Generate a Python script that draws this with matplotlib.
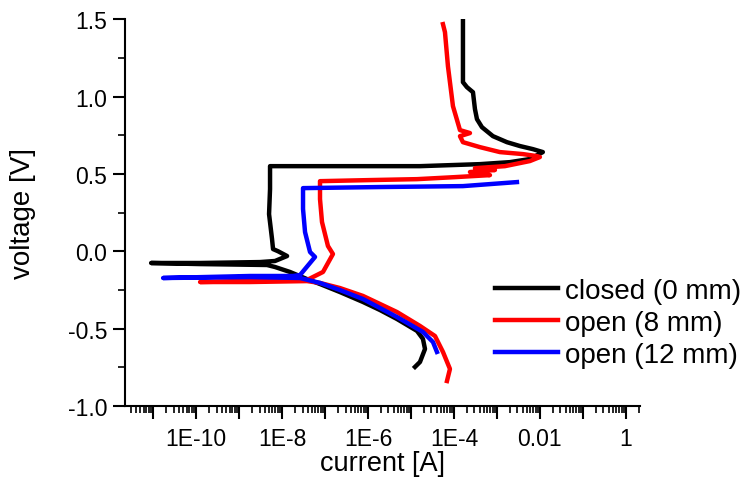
import matplotlib
matplotlib.use("Agg")
import matplotlib.pyplot as plt
from matplotlib.ticker import FixedLocator, LogLocator, MultipleLocator, NullFormatter

plt.rcParams['font.family'] = ['Liberation Sans', 'DejaVu Sans']
plt.rcParams['axes.unicode_minus'] = False

# closed (0 mm): current [A], voltage [V]
closed_i = [1.24e-5, 1.62e-5, 2.12e-5, 1.90e-5, 1.38e-5, 4.72e-6, 1.90e-6, 7.65e-7,
            2.23e-7, 7.65e-8, 3.81e-8, 1.53e-8, 6.88e-9, 4.48e-9, 1.24e-10, 9.0e-12,
            1.24e-10, 3.08e-9, 6.88e-9, 1.31e-8, 8.07e-9, 6.18e-9, 5.85e-9, 4.99e-9,
            5.26e-9, 5.26e-9, 3.81e-7, 1.62e-5, 4.02e-4, 2.0e-3, 5.85e-3, 1.17e-2,
            6.88e-3, 3.43e-3, 1.71e-3, 8.07e-4, 4.48e-4, 3.43e-4, 3.08e-4, 2.77e-4,
            2.00e-4, 1.62e-4, 1.62e-4, 1.62e-4]
closed_v = [-0.748, -0.716, -0.632, -0.567, -0.515, -0.438, -0.380, -0.328,
            -0.264, -0.212, -0.180, -0.134, -0.102, -0.089, -0.083, -0.076,
            -0.076, -0.070, -0.063, -0.031, 0.0, 0.014, 0.079, 0.240,
            0.402, 0.550, 0.550, 0.550, 0.563, 0.576, 0.596, 0.641,
            0.660, 0.680, 0.705, 0.744, 0.802, 0.854, 0.919, 1.028,
            1.061, 1.093, 1.306, 1.5]

# open (8 mm)
open8_i = [6.88e-5, 8.07e-5, 5.55e-5, 3.62e-5, 1.62e-5, 4.72e-6, 1.90e-6, 7.65e-7,
           2.23e-7, 7.65e-8, 3.81e-8, 1.80e-9, 1.24e-10, 1.80e-9, 3.81e-8, 8.98e-8,
           1.53e-7, 1.17e-7, 8.51e-8, 7.65e-8, 7.65e-8, 1.11e-6, 1.38e-5, 1.05e-4,
           6.88e-4, 2.36e-4, 8.98e-4, 3.08e-4, 1.53e-3, 5.85e-3, 1.0e-2, 8.51e-3,
           4.02e-3, 1.17e-3, 4.02e-4, 1.62e-4, 1.38e-4, 2.36e-4, 1.38e-4, 9.48e-5,
           7.25e-5, 6.18e-5, 5.55e-5]
open8_v = [-0.839, -0.761, -0.651, -0.548, -0.483, -0.393, -0.341, -0.289,
           -0.238, -0.205, -0.193, -0.199, -0.199, -0.193, -0.186, -0.134,
           -0.018, 0.034, 0.189, 0.337, 0.453, 0.460, 0.466, 0.479,
           0.492, 0.512, 0.525, 0.537, 0.550, 0.583, 0.609, 0.615,
           0.628, 0.641, 0.673, 0.705, 0.744, 0.764, 0.783, 0.938,
           1.196, 1.416, 1.468]

# open (12 mm)
open12_i = [4.02e-5, 3.25e-5, 1.90e-5, 4.72e-6, 1.90e-6, 7.65e-7, 2.23e-7, 7.65e-8,
            2.62e-8, 1.80e-9, 1.71e-11, 1.80e-9, 1.80e-8, 2.62e-8, 5.85e-8, 4.48e-8,
            3.43e-8, 3.08e-8, 3.08e-8, 1.90e-6, 1.62e-4, 6.88e-4, 2.92e-3]
open12_v = [-0.651, -0.587, -0.522, -0.425, -0.367, -0.309, -0.251, -0.205,
            -0.173, -0.167, -0.173, -0.160, -0.160, -0.154, -0.037, -0.005,
            0.124, 0.273, 0.408, 0.415, 0.421, 0.434, 0.447]

series_labels = ['closed (0 mm)', 'open (8 mm)', 'open (12 mm)']
series_colors = ['black', '#ff0000', '#0000ff']

xtick_exps = list(range(-11, 1))
xtick_text = {-10: '1E-10', -8: '1E-8', -6: '1E-6', -4: '1E-4', -2: '0.01', 0: '1'}

fig = plt.figure(figsize=(7.43, 4.81), dpi=100)
ax = fig.add_axes([0.168, 0.154, 0.693, 0.804])

data = [(closed_i, closed_v), (open8_i, open8_v), (open12_i, open12_v)]
for (cur, vol), lab, col in zip(data, series_labels, series_colors):
    ax.plot(cur, vol, color=col, lw=3.2, label=lab, solid_joinstyle='round')

ax.set_xscale('log')
ax.set_xlim(2.2e-12, 2.1)
ax.set_ylim(-1.0, 1.5)

ax.xaxis.set_major_locator(FixedLocator([10.0 ** e for e in xtick_exps]))
ax.set_xticklabels([xtick_text.get(e, '') for e in xtick_exps])
ax.xaxis.set_minor_locator(LogLocator(base=10, subs=range(2, 10), numticks=50))
ax.xaxis.set_minor_formatter(NullFormatter())

ax.yaxis.set_major_locator(MultipleLocator(0.5))
ax.yaxis.set_minor_locator(MultipleLocator(0.25))
ax.yaxis.set_major_formatter(plt.FormatStrFormatter('%.1f'))

for s in ['top', 'right']:
    ax.spines[s].set_visible(False)
for s in ['left', 'bottom']:
    ax.spines[s].set_linewidth(1.5)

ax.tick_params(which='major', direction='out', length=9, width=1.5, labelsize=16.5, colors='black')
ax.tick_params(which='minor', direction='out', length=5, width=1.2)
ax.tick_params(axis='x', pad=6)

ax.set_xlabel('current [A]', fontsize=19.5)
ax.set_ylabel('voltage [V]', fontsize=20)
ax.xaxis.set_label_coords(0.5, -0.114)
ax.yaxis.set_label_coords(-0.172, 0.5)

ax.legend(loc='upper left', bbox_to_anchor=(0.718, 0.332), frameon=False, fontsize=20,
          handlelength=2.3, handletextpad=0.25, labelspacing=0.22, borderaxespad=0,
          borderpad=0)

fig.savefig('out.png', dpi=100)
